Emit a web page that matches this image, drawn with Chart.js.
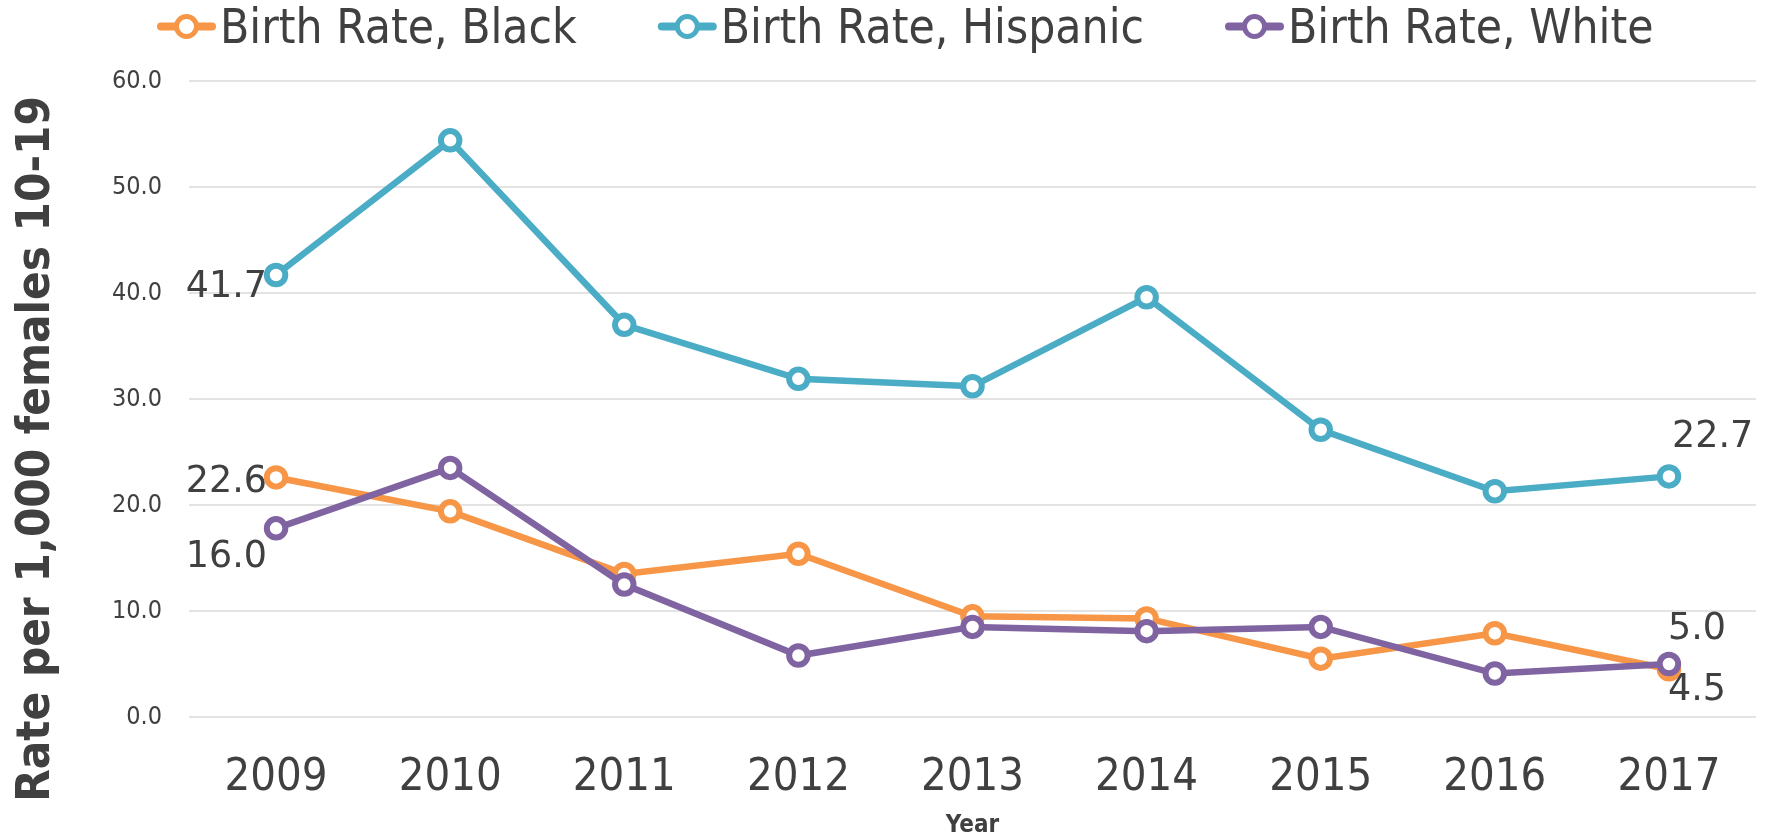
<!DOCTYPE html>
<html>
<head>
<meta charset="utf-8">
<script src="https://cdn.jsdelivr.net/npm/chart.js@4.4.1/dist/chart.umd.min.js"></script>
<style>
  html, body { margin: 0; padding: 0; background: #fff; }
  #wrap { width: 1775px; height: 837px; position: relative; }
</style>
</head>
<body>
<div id="wrap"><canvas id="rateChart"></canvas></div>
<script>
// Teen birth rate per 1,000 females 10-19, by race/ethnicity
const years = ['2009', '2010', '2011', '2012', '2013', '2014', '2015', '2016', '2017'];
const blackRate = [22.6, 19.4, 13.5, 15.4, 9.5, 9.3, 5.5, 7.9, 4.5];
const hispanicRate = [41.7, 54.4, 37.0, 31.9, 31.2, 39.6, 27.1, 21.3, 22.7];
const whiteRate = [17.8, 23.5, 12.5, 5.8, 8.5, 8.1, 8.5, 4.1, 5.0];

// value labels shown on the chart (only first and last year)
const blackLabels = ['22.6', null, null, null, null, null, null, null, '4.5'];
const hispanicLabels = ['41.7', null, null, null, null, null, null, null, '22.7'];
const whiteLabels = ['16.0', null, null, null, null, null, null, null, '5.0'];

const yTicks = [0, 10, 20, 30, 40, 50, 60];
const yTitle = 'Rate per 1,000 females 10-19';

const TEXT = '#404040';
const COND = '"DejaVu Sans Condensed", "DejaVu Sans", sans-serif';

// legend with a line + open circle marker, like the original
const lineLegend = {
  id: 'lineLegend',
  afterDraw(chart, args, opts) {
    const ctx = chart.ctx;
    ctx.save();
    ctx.font = opts.font;
    const items = chart.data.datasets
      .slice()
      .sort((a, b) => a.legendIndex - b.legendIndex)
      .map(ds => ({ text: ds.label, color: ds.borderColor, w: ctx.measureText(ds.label).width }));
    let x = opts.startX;
    const y = opts.y;
    items.forEach(it => {
      const w = opts.iconWidth;
      ctx.strokeStyle = it.color;
      ctx.lineCap = 'round';
      ctx.lineWidth = 8;
      ctx.beginPath();
      ctx.moveTo(x + 4, y);
      ctx.lineTo(x + w - 4, y);
      ctx.stroke();
      ctx.beginPath();
      ctx.arc(x + w / 2, y, 10, 0, Math.PI * 2);
      ctx.fillStyle = '#fff';
      ctx.fill();
      ctx.lineWidth = 5;
      ctx.stroke();
      ctx.fillStyle = TEXT;
      ctx.textAlign = 'left';
      ctx.textBaseline = 'alphabetic';
      ctx.fillText(it.text, x + w + opts.iconGap, opts.baseline);
      x += w + opts.iconGap + it.w + opts.itemGap;
    });
    ctx.restore();
  }
};

// rotated y axis title, placed like the original (lower than the axis centre)
const sideTitle = {
  id: 'sideTitle',
  afterDraw(chart, args, opts) {
    const ctx = chart.ctx;
    ctx.save();
    ctx.translate(opts.x, opts.y);
    ctx.rotate(-Math.PI / 2);
    ctx.font = opts.font;
    ctx.fillStyle = TEXT;
    ctx.textAlign = 'center';
    ctx.textBaseline = 'alphabetic';
    ctx.fillText(opts.text, 0, 0);
    ctx.restore();
  }
};

// value labels next to points
const pointLabels = {
  id: 'pointLabels',
  afterDatasetsDraw(chart, args, opts) {
    const ctx = chart.ctx;
    ctx.save();
    ctx.font = opts.font;
    ctx.fillStyle = TEXT;
    ctx.textBaseline = 'alphabetic';
    chart.data.datasets.forEach((ds, di) => {
      const meta = chart.getDatasetMeta(di);
      ds.valueLabels.forEach((txt, i) => {
        if (!txt) return;
        const pt = meta.data[i];
        const place = (opts.placement[di] || {})[i] || [0, 0, 'left'];
        ctx.textAlign = place[2];
        ctx.fillText(txt, pt.x + place[0], pt.y + place[1]);
      });
    });
    ctx.restore();
  }
};

function seriesStyle(color) {
  return {
    borderColor: color,
    backgroundColor: '#fff',
    borderWidth: 6.5,
    pointRadius: 9.25,
    pointHoverRadius: 9.25,
    pointBorderWidth: 6,
    pointBackgroundColor: '#fff',
    pointBorderColor: color,
    tension: 0,
    fill: false
  };
}

const ctx = document.getElementById('rateChart').getContext('2d');
new Chart(ctx, {
  type: 'line',
  data: {
    labels: years,
    datasets: [
      { label: 'Birth Rate, Black', data: blackRate, valueLabels: blackLabels, legendIndex: 0, order: 1, ...seriesStyle('#F79646') },
      { label: 'Birth Rate, Hispanic', data: hispanicRate, valueLabels: hispanicLabels, legendIndex: 1, order: 2, ...seriesStyle('#4BACC6') },
      { label: 'Birth Rate, White', data: whiteRate, valueLabels: whiteLabels, legendIndex: 2, order: 0, ...seriesStyle('#8064A2') }
    ]
  },
  options: {
    responsive: true,
    maintainAspectRatio: false,
    animation: false,
    layout: { padding: { top: 81, right: 19, bottom: 0, left: 0 } },
    plugins: {
      legend: { display: false },
      tooltip: { enabled: false },
      lineLegend: { font: '47.5px ' + COND, iconWidth: 59, iconGap: 4, itemGap: 81, startX: 157, y: 26.5, baseline: 43 },
      sideTitle: { text: yTitle, font: 'bold 47px ' + COND, x: 49, y: 449 },
      pointLabels: {
        font: '36.5px "DejaVu Sans", sans-serif',
        placement: {
          0: { 0: [-9, 15, 'right'], 8: [-1, 31, 'left'] },
          1: { 0: [-9, 22, 'right'], 8: [3, -29, 'left'] },
          2: { 0: [-9, 39, 'right'], 8: [-1, -25, 'left'] }
        }
      }
    },
    scales: {
      x: {
        offset: true,
        grid: { display: false, drawTicks: false },
        border: { display: false },
        ticks: { color: TEXT, font: { family: COND, size: 45 }, padding: 34 },
        title: { display: true, text: 'Year', color: TEXT, font: { family: COND, size: 24, weight: 'bold', lineHeight: 0.9 }, padding: { top: 0, bottom: 0 } },
        afterFit(scale) { scale.height = 120; }
      },
      y: {
        min: 0,
        max: 60,
        afterBuildTicks(scale) { scale.ticks = yTicks.map(v => ({ value: v })); },
        grid: { color: '#e3e3e3', lineWidth: 2, drawTicks: false },
        border: { display: false },
        ticks: { color: TEXT, font: { family: COND, size: 25 }, padding: 27, callback: v => v.toFixed(1) },
        afterFit(scale) { scale.width = 189; }
      }
    }
  },
  plugins: [lineLegend, sideTitle, pointLabels]
});
</script>
</body>
</html>
